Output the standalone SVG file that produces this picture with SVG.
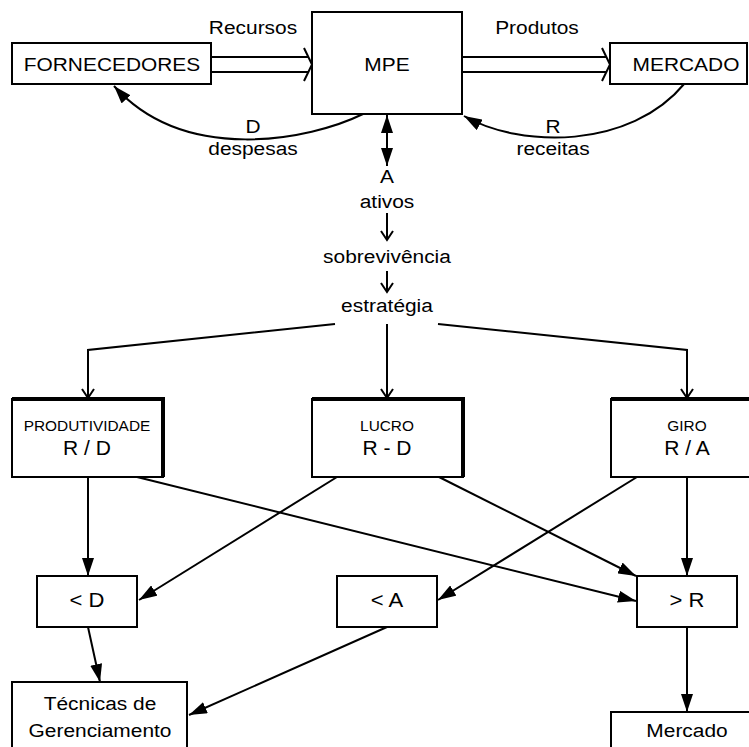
<svg xmlns="http://www.w3.org/2000/svg" width="749" height="747" viewBox="0 0 749 747">
<style>
.t{font-family:"Liberation Sans",Arial,sans-serif;font-size:19px;text-anchor:middle;fill:#000}
.s{font-family:"Liberation Sans",Arial,sans-serif;font-size:14px;text-anchor:middle;fill:#000}
.f{font-family:"Liberation Sans",Arial,sans-serif;font-size:21px;text-anchor:middle;fill:#000}
.box{fill:#fff;stroke:#000;stroke-width:2}
.thick{fill:none;stroke:#000;stroke-width:4}
.ln{fill:none;stroke:#000;stroke-width:2}
.fa{fill:none;stroke:#000;stroke-width:2;marker-end:url(#ah)}
.oa{fill:none;stroke:#000;stroke-width:2;marker-end:url(#oh)}
</style>
<defs>
<marker id="ah" markerUnits="userSpaceOnUse" markerWidth="18" markerHeight="12" refX="18" refY="6" orient="auto-start-reverse" viewBox="0 0 18 12"><path d="M0 0 L18 6 L0 12 Z" fill="#000"/></marker>
<marker id="oh" markerUnits="userSpaceOnUse" markerWidth="12" markerHeight="14" refX="10" refY="7" orient="auto" viewBox="0 0 12 14"><path d="M1 1 L10 7 L1 13" fill="none" stroke="#000" stroke-width="2"/></marker>
</defs>

<g id="connectors">
  <line class="ln" x1="211" y1="57" x2="308" y2="57"/>
  <line class="ln" x1="211" y1="72" x2="308" y2="72"/>
  <path class="ln" d="M304 48 L312 64.5 L304 81"/>
  <line class="ln" x1="462" y1="57" x2="606" y2="57"/>
  <line class="ln" x1="462" y1="72" x2="606" y2="72"/>
  <path class="ln" d="M602 48 L610 64.5 L602 81"/>
  <path class="fa" d="M363 114 C310 140, 185 165, 114 86"/>
  <path class="fa" d="M685 83 C630 150, 520 148, 464 116"/>
  <line x1="387" y1="115" x2="387" y2="166" stroke="#000" stroke-width="2" marker-start="url(#ah)" marker-end="url(#ah)"/>
  <line class="oa" x1="387" y1="213" x2="387" y2="240"/>
  <line class="oa" x1="387" y1="271" x2="387" y2="292"/>
  <path class="oa" d="M335 324 L88 350 L88 398"/>
  <line class="oa" x1="387" y1="324" x2="387" y2="398"/>
  <path class="oa" d="M438 324 L687 350 L687 398"/>
  <line class="fa" x1="88" y1="477" x2="88" y2="576"/>
  <line class="fa" x1="137" y1="477" x2="636" y2="601"/>
  <line class="fa" x1="337" y1="477" x2="139" y2="600"/>
  <line class="fa" x1="439" y1="477" x2="636" y2="576"/>
  <line class="fa" x1="637" y1="477" x2="438" y2="600"/>
  <line class="fa" x1="687" y1="477" x2="687" y2="576"/>
  <line class="fa" x1="88" y1="627" x2="100" y2="682"/>
  <line class="fa" x1="387" y1="627" x2="189" y2="715"/>
  <line class="fa" x1="687" y1="627" x2="687" y2="712"/>
</g>

<g id="labels">
  <text class="t" transform="translate(253 34) scale(1.1 1)">Recursos</text>
  <text class="t" transform="translate(537 34) scale(1.1 1)">Produtos</text>
  <text class="t" transform="translate(253 133) scale(1.1 1)">D</text>
  <text class="t" transform="translate(253 155) scale(1.1 1)">despesas</text>
  <text class="t" transform="translate(553 133) scale(1.1 1)">R</text>
  <text class="t" transform="translate(553 155) scale(1.1 1)">receitas</text>
  <text class="t" transform="translate(387 183) scale(1.1 1)">A</text>
  <text class="t" transform="translate(387 208) scale(1.1 1)">ativos</text>
  <text class="t" transform="translate(387 263) scale(1.1 1)">sobrevivência</text>
  <text class="t" transform="translate(387 312) scale(1.1 1)">estratégia</text>
</g>

<g id="fornecedores">
  <rect class="box" x="12" y="43" width="199" height="41"/>
  <text class="t" transform="translate(112 71) scale(1.1 1)">FORNECEDORES</text>
</g>
<g id="mpe">
  <rect class="box" x="312" y="12" width="150" height="102"/>
  <text class="t" transform="translate(387 71) scale(1.1 1)">MPE</text>
</g>
<g id="mercado-top">
  <rect class="box" x="610" y="43" width="137" height="41"/>
  <text class="t" transform="translate(686 71) scale(1.1 1)">MERCADO</text>
</g>

<g id="produtividade">
  <rect class="box" x="12" y="399" width="151" height="78"/>
  <path class="thick" d="M12 399 L163 399 L163 477"/>
  <text class="s" transform="translate(87 431) scale(1.1 1)">PRODUTIVIDADE</text>
  <text class="f" x="87" y="455">R / D</text>
</g>
<g id="lucro">
  <rect class="box" x="312" y="399" width="151" height="78"/>
  <path class="thick" d="M312 399 L463 399 L463 477"/>
  <text class="s" transform="translate(387 431) scale(1.1 1)">LUCRO</text>
  <text class="f" x="387" y="455">R - D</text>
</g>
<g id="giro">
  <rect class="box" x="611" y="399" width="151" height="78"/>
  <path class="thick" d="M611 399 L762 399"/>
  <text class="s" transform="translate(687 431) scale(1.1 1)">GIRO</text>
  <text class="f" x="687" y="455">R / A</text>
</g>

<g id="menor-d">
  <rect class="box" x="37" y="576" width="100" height="51"/>
  <text class="f" transform="translate(87 607) scale(1.05 1)">&lt; D</text>
</g>
<g id="menor-a">
  <rect class="box" x="337" y="576" width="100" height="51"/>
  <text class="f" transform="translate(387 607) scale(1.05 1)">&lt; A</text>
</g>
<g id="maior-r">
  <rect class="box" x="637" y="576" width="100" height="51"/>
  <text class="f" transform="translate(687 607) scale(1.05 1)">&gt; R</text>
</g>

<g id="tecnicas">
  <rect class="box" x="12" y="682" width="175" height="80"/>
  <text class="t" transform="translate(100 710) scale(1.1 1)">Técnicas de</text>
  <text class="t" transform="translate(100 737) scale(1.1 1)">Gerenciamento</text>
</g>
<g id="mercado">
  <rect class="box" x="611" y="712" width="151" height="50"/>
  <text class="t" transform="translate(687 737) scale(1.1 1)">Mercado</text>
</g>
</svg>
